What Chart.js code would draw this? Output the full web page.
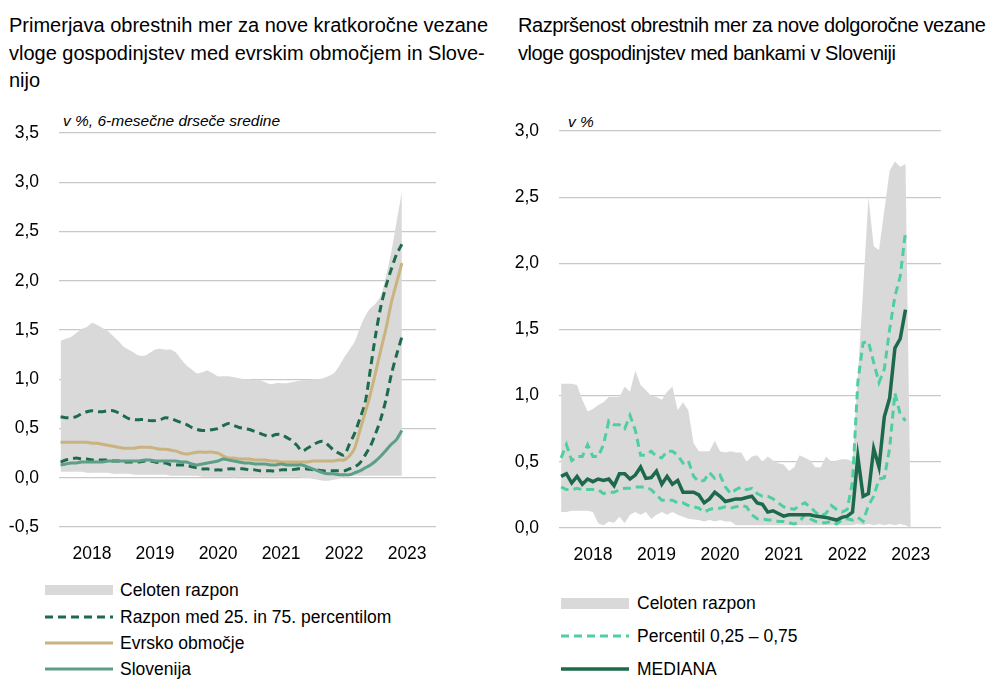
<!DOCTYPE html>
<html>
<head>
<meta charset="utf-8">
<script src="https://cdn.jsdelivr.net/npm/chart.js@4.4.1/dist/chart.umd.min.js"></script>
<style>
  html, body { margin: 0; padding: 0; background: #fff; }
  #wrap { position: relative; width: 997px; height: 680px; overflow: hidden; font-family: "Liberation Sans", Arial, sans-serif; color: #000; }
  .title { position: absolute; font-size: 20px; line-height: 27.5px; white-space: nowrap; }
  .unit { position: absolute; font-size: 15.5px; font-style: italic; white-space: nowrap; }
  canvas { position: absolute; }
  .leg { position: absolute; font-size: 17.5px; white-space: nowrap; }
  .row { position: absolute; left: 0; height: 20px; display: flex; align-items: center; }
  .row svg { display: block; }
  .row span { position: absolute; line-height: 20px; }
</style>
</head>
<body>
<div id="wrap">
  <div class="title" style="left:9px; top:12px;">Primerjava obrestnih mer za nove kratkoročne vezane<br>vloge gospodinjstev med evrskim območjem in Slove-<br>nijo</div>
  <div class="title" style="left:518px; top:12px; letter-spacing:-0.45px;">Razpršenost obrestnih mer za nove dolgoročne vezane<br>vloge gospodinjstev med bankami v Sloveniji</div>
  <div class="unit" style="left:63px; top:112px;">v %, 6-mesečne drseče sredine</div>
  <div class="unit" style="left:568px; top:113px;">v %</div>
  <canvas id="c1" width="450" height="475" style="left:0px; top:100px; width:450px; height:475px;"></canvas>
  <canvas id="c2" width="497" height="475" style="left:500px; top:100px; width:497px; height:475px;"></canvas>

  <div class="leg" style="left:45px; top:580px;">
    <div class="row" style="top:0px;"><svg width="68" height="20"><rect x="0" y="5" width="68" height="10" fill="#d9d9d9"/></svg><span style="left:75px;">Celoten razpon</span></div>
    <div class="row" style="top:27px;"><svg width="68" height="20"><line x1="0" y1="10" x2="68" y2="10" stroke="#1e6b4c" stroke-width="3" stroke-dasharray="8,5"/></svg><span style="left:75px;">Razpon med 25. in 75. percentilom</span></div>
    <div class="row" style="top:53px;"><svg width="68" height="20"><line x1="0" y1="10" x2="68" y2="10" stroke="#c9b37f" stroke-width="3"/></svg><span style="left:75px;">Evrsko območje</span></div>
    <div class="row" style="top:79px;"><svg width="68" height="20"><line x1="0" y1="10" x2="68" y2="10" stroke="#5c9f86" stroke-width="3"/></svg><span style="left:75px;">Slovenija</span></div>
  </div>

  <div class="leg" style="left:561px; top:593px;">
    <div class="row" style="top:0px;"><svg width="68" height="20"><rect x="0" y="5" width="68" height="11" fill="#d9d9d9"/></svg><span style="left:76px;">Celoten razpon</span></div>
    <div class="row" style="top:33px;"><svg width="68" height="20"><line x1="0" y1="10" x2="68" y2="10" stroke="#4fcf9f" stroke-width="3" stroke-dasharray="8,5"/></svg><span style="left:76px;">Percentil 0,25 – 0,75</span></div>
    <div class="row" style="top:66px;"><svg width="68" height="20"><line x1="0" y1="10" x2="68" y2="10" stroke="#1c6a4b" stroke-width="3.5"/></svg><span style="left:76px;">MEDIANA</span></div>
  </div>
</div>

<script>
// ---------- shared axis labels (monthly index: 0 = Jul 2017) ----------
const xTickValues = [6, 18, 30, 42, 54, 66];
const xTickLabels = ['2018', '2019', '2020', '2021', '2022', '2023'];

// ---------- left chart: short-term deposits (6-month moving averages) ----------
const leftRangeHigh = [
  1.39,1.41,1.43,1.47,1.51,1.53,1.57,1.55,1.52,1.49,
  1.44,1.39,1.33,1.30,1.27,1.24,1.24,1.27,1.30,1.31,
  1.30,1.30,1.27,1.20,1.14,1.10,1.06,1.07,1.09,1.06,
  1.03,1.03,1.03,1.02,1.01,1.00,1.00,0.99,0.99,0.97,
  0.95,0.96,0.96,0.96,0.97,0.98,0.99,0.99,1.00,1.00,
  1.01,1.03,1.06,1.13,1.22,1.30,1.38,1.52,1.64,1.72,
  1.77,1.85,2.05,2.30,2.60,2.90];
const leftRangeLow = [
  0.06,0.06,0.06,0.06,0.06,0.05,0.05,0.05,0.05,0.05,
  0.04,0.04,0.04,0.04,0.03,0.03,0.03,0.03,0.03,0.03,
  0.03,0.02,0.02,0.02,0.02,0.02,0.02,0.01,0.01,0.01,
  0.01,0.01,0.01,0.00,0.01,0.01,0.01,0.01,0.01,0.01,
  0.01,0.01,0.01,0.01,0.01,0.01,0.00,0.00,-0.01,-0.02,
  -0.03,-0.03,-0.02,-0.01,0.01,0.02,0.02,0.02,0.02,0.02,
  0.02,0.02,0.02,0.02,0.02,0.02];
const leftP75 = [
  0.62,0.61,0.61,0.62,0.65,0.67,0.68,0.67,0.67,0.68,
  0.68,0.66,0.63,0.60,0.59,0.59,0.59,0.58,0.58,0.59,
  0.61,0.60,0.58,0.56,0.54,0.51,0.49,0.48,0.48,0.49,
  0.50,0.53,0.55,0.53,0.51,0.50,0.49,0.47,0.45,0.43,
  0.42,0.44,0.44,0.41,0.38,0.33,0.27,0.30,0.33,0.36,
  0.37,0.33,0.28,0.25,0.23,0.34,0.45,0.60,0.76,1.10,
  1.45,1.74,1.95,2.12,2.27,2.37];
const leftP25 = [
  0.16,0.18,0.19,0.20,0.19,0.19,0.18,0.18,0.18,0.18,
  0.17,0.17,0.16,0.16,0.16,0.16,0.17,0.17,0.16,0.15,
  0.15,0.13,0.13,0.13,0.13,0.11,0.10,0.09,0.09,0.08,
  0.08,0.08,0.09,0.09,0.09,0.09,0.08,0.08,0.07,0.07,
  0.07,0.07,0.08,0.08,0.08,0.09,0.09,0.09,0.08,0.08,
  0.07,0.07,0.07,0.07,0.07,0.09,0.11,0.15,0.23,0.32,
  0.45,0.60,0.80,1.05,1.25,1.43];
const leftEuro = [
  0.36,0.36,0.36,0.36,0.36,0.36,0.35,0.35,0.34,0.33,
  0.32,0.31,0.30,0.30,0.30,0.31,0.31,0.31,0.30,0.29,
  0.29,0.28,0.27,0.25,0.24,0.25,0.26,0.26,0.26,0.26,
  0.25,0.22,0.20,0.20,0.19,0.19,0.19,0.18,0.18,0.18,
  0.17,0.17,0.16,0.16,0.16,0.16,0.16,0.16,0.17,0.17,
  0.17,0.17,0.17,0.18,0.18,0.22,0.30,0.48,0.66,0.85,
  1.07,1.30,1.52,1.78,1.98,2.18];
const leftSlovenia = [
  0.13,0.14,0.15,0.15,0.16,0.16,0.16,0.16,0.16,0.17,
  0.17,0.17,0.17,0.17,0.17,0.17,0.18,0.18,0.17,0.17,
  0.17,0.17,0.17,0.16,0.16,0.14,0.13,0.14,0.15,0.16,
  0.17,0.19,0.18,0.17,0.16,0.15,0.15,0.14,0.14,0.14,
  0.13,0.13,0.14,0.13,0.13,0.13,0.13,0.11,0.09,0.07,
  0.05,0.04,0.04,0.03,0.03,0.03,0.05,0.07,0.10,0.13,
  0.17,0.22,0.28,0.34,0.39,0.48];

// ---------- right chart: long-term deposits, dispersion across banks ----------
const rightRangeHigh = [
  1.09,1.09,1.09,1.08,0.97,0.88,0.90,0.93,0.95,0.99,
  0.99,0.99,1.07,1.03,1.19,1.08,1.04,1.00,0.99,0.97,
  1.03,1.07,0.89,0.95,0.89,0.64,0.58,0.58,0.58,0.66,
  0.58,0.57,0.58,0.57,0.57,0.50,0.54,0.55,0.50,0.54,
  0.51,0.49,0.48,0.43,0.46,0.55,0.53,0.51,0.46,0.46,
  0.54,0.50,0.51,0.52,0.52,0.50,1.15,1.80,2.50,2.13,
  2.10,2.40,2.70,2.77,2.73,2.75,0];
const rightRangeLow = [
  0.12,0.12,0.13,0.13,0.13,0.13,0.12,0.035,0.02,0.05,
  0.04,0.085,0.035,0.10,0.12,0.10,0.12,0.07,0.10,0.12,
  0.10,0.12,0.10,0.085,0.07,0.065,0.06,0.05,0.06,0.05,
  0.06,0.05,0.05,0.02,0.02,0.02,0.02,0.02,0.02,0.02,
  0.02,0.02,0.02,0.02,0.02,0.02,0.02,0.02,0.02,0.02,
  0.02,0.02,0.02,0.02,0.02,0.02,0.03,0.02,0.03,0.02,
  0.03,0.02,0.03,0.02,0.03,0.02,0];
const rightP75 = [
  0.53,0.63,0.51,0.54,0.54,0.63,0.54,0.54,0.63,0.81,
  0.78,0.78,0.75,0.85,0.74,0.55,0.55,0.58,0.54,0.53,
  0.58,0.58,0.55,0.49,0.51,0.39,0.35,0.36,0.42,0.375,
  0.40,0.31,0.26,0.29,0.31,0.29,0.30,0.26,0.24,0.24,
  0.22,0.19,0.16,0.15,0.14,0.17,0.19,0.16,0.12,0.09,
  0.11,0.17,0.14,0.12,0.14,0.35,1.10,1.40,1.41,1.25,
  1.10,1.20,1.50,1.75,1.90,2.24];
const rightP25 = [
  0.31,0.29,0.29,0.30,0.29,0.29,0.29,0.29,0.26,0.27,
  0.27,0.29,0.30,0.30,0.31,0.31,0.31,0.29,0.25,0.21,
  0.21,0.21,0.19,0.19,0.17,0.16,0.15,0.12,0.14,0.15,
  0.15,0.16,0.15,0.16,0.17,0.16,0.10,0.07,0.07,0.06,
  0.06,0.05,0.05,0.04,0.03,0.05,0.10,0.07,0.05,0.04,
  0.04,0.05,0.03,0.06,0.07,0.06,0.08,0.05,0.17,0.24,
  0.37,0.38,0.60,1.02,0.86,0.81];
const rightMedian = [
  0.39,0.41,0.34,0.39,0.33,0.37,0.35,0.37,0.36,0.37,
  0.32,0.41,0.41,0.37,0.40,0.46,0.375,0.38,0.43,0.33,
  0.39,0.33,0.36,0.27,0.27,0.27,0.25,0.19,0.22,0.27,
  0.24,0.20,0.21,0.22,0.22,0.23,0.24,0.19,0.18,0.12,
  0.13,0.11,0.09,0.10,0.10,0.10,0.10,0.10,0.09,0.085,
  0.08,0.07,0.06,0.08,0.09,0.12,0.54,0.24,0.26,0.60,
  0.46,0.84,0.98,1.36,1.43,1.65];

// ---------- helpers ----------
const FONT = "'Liberation Sans', Arial, sans-serif";
const toXY = arr => arr.map((v, i) => ({ x: i, y: v }));
const fmt = v => Number(v).toFixed(1).replace('.', ',');

function baseOptions(yMin, yMax, xMin, xMax, pad, xAxisHeight) {
  return {
    responsive: false,
    animation: false,
    events: [],
    layout: { padding: pad },
    plugins: { legend: { display: false }, tooltip: { enabled: false } },
    elements: { point: { radius: 0 } },
    scales: {
      x: {
        type: 'linear', min: xMin, max: xMax,
        grid: { display: false, drawTicks: false },
        border: { display: false },
        afterBuildTicks: s => { s.ticks = xTickValues.map(v => ({ value: v })); },
        afterFit: s => { s.height = xAxisHeight; },
        ticks: {
          autoSkip: false, maxRotation: 0, padding: 17,
          color: '#000', font: { family: FONT, size: 17.5 },
          callback: v => xTickLabels[xTickValues.indexOf(v)]
        }
      },
      y: {
        min: yMin, max: yMax,
        grid: { color: '#c8c8c8', lineWidth: 1.3, drawTicks: false },
        border: { display: false },
        afterFit: s => { s.width = 59; },
        ticks: {
          stepSize: 0.5, padding: 20,
          color: '#000', font: { family: FONT, size: 17.5 },
          callback: v => fmt(v)
        }
      }
    }
  };
}

// ---------- left chart ----------
new Chart(document.getElementById('c1'), {
  type: 'line',
  data: {
    datasets: [
      { label: 'Slovenija', data: toXY(leftSlovenia), borderColor: '#5c9f86', borderWidth: 3, tension: 0.3, fill: false, order: 0 },
      { label: 'Evrsko območje', data: toXY(leftEuro), borderColor: '#c9b37f', borderWidth: 3, tension: 0.3, fill: false, order: 1 },
      { label: 'Razpon med 25. in 75. percentilom', data: toXY(leftP75), borderColor: '#1e6b4c', borderWidth: 3, borderDash: [8, 5], tension: 0.3, fill: false, order: 2 },
      { label: '25. percentil', data: toXY(leftP25), borderColor: '#1e6b4c', borderWidth: 3, borderDash: [8, 5], tension: 0.3, fill: false, order: 2 },
      { label: 'Celoten razpon', data: toXY(leftRangeHigh), borderWidth: 0, borderColor: 'rgba(0,0,0,0)', backgroundColor: '#d9d9d9', tension: 0.3, fill: { target: 5 }, order: 5 },
      { label: 'min', data: toXY(leftRangeLow), borderWidth: 0, borderColor: 'rgba(0,0,0,0)', tension: 0.3, fill: false, order: 6 }
    ]
  },
  options: baseOptions(-0.5, 3.5, -0.3, 71.5, { top: 33, right: 14, left: 0, bottom: 0 }, 48)
});

// ---------- right chart ----------
new Chart(document.getElementById('c2'), {
  type: 'line',
  data: {
    datasets: [
      { label: 'MEDIANA', data: toXY(rightMedian), borderColor: '#1c6a4b', borderWidth: 3.5, tension: 0, fill: false, order: 0 },
      { label: 'Percentil 0,75', data: toXY(rightP75), borderColor: '#4fcf9f', borderWidth: 3, borderDash: [8, 5], tension: 0, fill: false, order: 1 },
      { label: 'Percentil 0,25', data: toXY(rightP25), borderColor: '#4fcf9f', borderWidth: 3, borderDash: [8, 5], tension: 0, fill: false, order: 1 },
      { label: 'Celoten razpon', data: toXY(rightRangeHigh), borderWidth: 0, borderColor: 'rgba(0,0,0,0)', backgroundColor: '#d9d9d9', tension: 0, fill: { target: 4 }, order: 5 },
      { label: 'min', data: toXY(rightRangeLow), borderWidth: 0, borderColor: 'rgba(0,0,0,0)', tension: 0, fill: false, order: 6 }
    ]
  },
  options: baseOptions(0, 3.0, -0.4, 71.7, { top: 31, right: 56, left: 0, bottom: 0 }, 47)
});
</script>
</body>
</html>
